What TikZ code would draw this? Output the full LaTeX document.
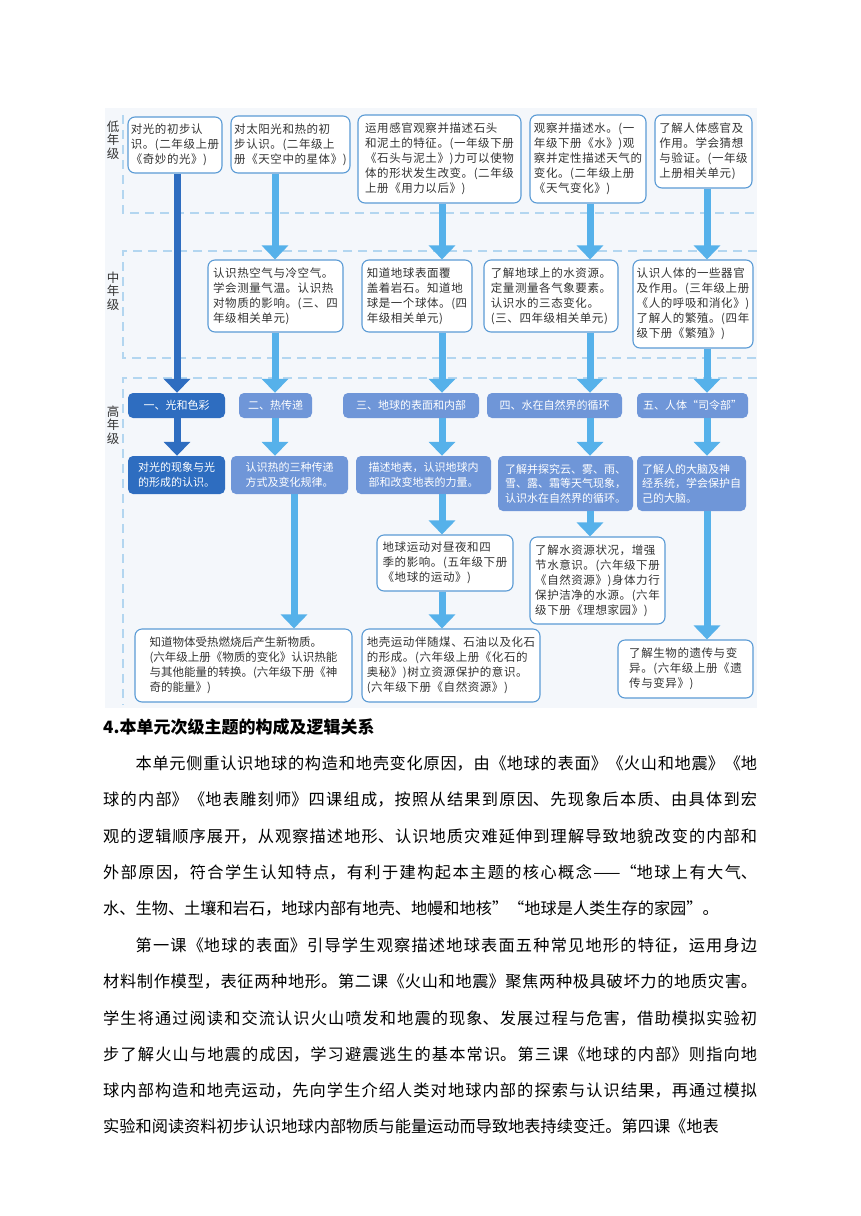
\documentclass[tikz,border=0pt]{standalone}
\usepackage{fontspec}
\setmainfont{Noto Sans CJK SC}
\newfontfamily\boxfont{Noto Sans CJK SC}[LetterSpace=5]
\usetikzlibrary{arrows.meta}
\XeTeXlinebreaklocale "zh"
\XeTeXlinebreakskip=0pt plus 2pt
\definecolor{bordblue}{HTML}{5B9BD5}
\definecolor{darkblue}{HTML}{2E6DC0}
\definecolor{midblue}{HTML}{6F96D8}
\definecolor{skyblue}{HTML}{56B1EA}
\definecolor{dashblue}{HTML}{B3D6F0}
\definecolor{bggray}{HTML}{F4F7FB}
\definecolor{txtgray}{HTML}{333333}
\tikzset{
 wbox/.style={draw=bordblue, line width=1.1pt, rounded corners=7pt, fill=white, inner sep=0pt, align=left, text=txtgray, font=\boxfont\fontsize{11.5}{15}\selectfont},
 fbox/.style={rounded corners=5pt, inner sep=0pt, align=left, text=white, font=\fontsize{11}{14.5}\selectfont},
 dfill/.style={fbox, fill=darkblue},
 mfill/.style={fbox, fill=midblue},
 arrL/.style={draw=skyblue, line width=7pt, -{Triangle[width=26pt,length=14pt]}},
 arrD/.style={draw=darkblue, line width=7pt, -{Triangle[width=26pt,length=14pt]}},
 bandline/.style={draw=dashblue, line width=1.4pt, dash pattern=on 9pt off 6pt},
 lvl/.style={align=center, text=txtgray, inner sep=0pt, font=\fontsize{12.5}{13.5}\selectfont},
 para/.style={anchor=base west, inner sep=0pt},
}
\begin{document}
\begin{tikzpicture}[x=1pt,y=-1pt]
\useasboundingbox (0,0) rectangle (860,1216);
\fill[white] (0,0) rectangle (860,1216);
\fill[bggray] (105,108) rectangle (757,708);
% bands
\draw[bandline] (123,115) -- (123,213) -- (757,213);
\draw[bandline] (757,251) -- (123,251) -- (123,358) -- (757,358);
\draw[bandline] (757,378) -- (123,378) -- (123,705);
% level labels
\node[lvl] (L1) at (113,140) {低\\年\\级};
\node[lvl] (L2) at (113,291) {中\\年\\级};
\node[lvl] (L3) at (113,425) {高\\年\\级};
% columns
\coordinate (c1) at (177,0);
\coordinate (c2) at (275,0);
\coordinate (c2b) at (294,0);
\coordinate (c3) at (442,0);
\coordinate (c4) at (590,0);
\coordinate (c5) at (707,0);
% low grade
\node[wbox, minimum width=94pt, minimum height=56pt] (A1) at (175,145) {对光的初步认\\识。(二年级上册\\《奇妙的光》)};
\node[wbox, minimum width=119pt, minimum height=57pt] (A2) at (290.5,144.5) {对太阳光和热的初\\步认识。(二年级上\\册《天空中的星体》)};
\node[wbox, minimum width=163pt, minimum height=88pt] (A3) at (439.5,159) {运用感官观察并描述石头\\和泥土的特征。(一年级下册\\《石头与泥土》)力可以使物\\体的形状发生改变。(二年级\\上册《用力以后》)};
\node[wbox, minimum width=116pt, minimum height=88pt] (A4) at (588,159) {观察并描述水。(一\\年级下册《水》)观\\察并定性描述天气的\\变化。(二年级上册\\《天气变化》)};
\node[wbox, minimum width=97pt, minimum height=73pt] (A5) at (703.5,151.5) {了解人体感官及\\作用。学会猜想\\与验证。(一年级\\上册相关单元)};
% mid grade
\node[wbox, minimum width=135pt, minimum height=72pt] (B1) at (275.5,296) {认识热空气与冷空气。\\学会测量气温。认识热\\对物质的影响。(三、四\\年级相关单元)};
\node[wbox, minimum width=110pt, minimum height=72pt] (B2) at (417,296) {知道地球表面覆\\盖着岩石。知道地\\球是一个球体。(四\\年级相关单元)};
\node[wbox, minimum width=134pt, minimum height=72pt] (B3) at (551,296) {了解地球上的水资源。\\定量测量各气象要素。\\认识水的三态变化。\\(三、四年级相关单元)};
\node[wbox, minimum width=120pt, minimum height=88pt] (B4) at (693,304) {认识人体的一些器官\\及作用。(三年级上册\\《人的呼吸和消化》)\\了解人的繁殖。(四年\\级下册《繁殖》)};
% high grade titles
\node[dfill, minimum width=97pt, minimum height=25pt] (C1) at (176.5,405.5) {一、光和色彩};
\node[mfill, minimum width=73pt, minimum height=25pt] (C2) at (275.5,405.5) {二、热传递};
\node[mfill, minimum width=136pt, minimum height=25pt] (C3) at (411,405.5) {三、地球的表面和内部};
\node[mfill, minimum width=135pt, minimum height=25pt] (C4) at (554.5,405.5) {四、水在自然界的循环};
\node[mfill, minimum width=111pt, minimum height=25pt] (C5) at (692.5,405.5) {五、人体“司令部”};
% high grade descriptions
\node[dfill, minimum width=97pt, minimum height=38pt] (D1) at (176.5,475) {对光的现象与光\\的形成的认识。};
\node[mfill, minimum width=117pt, minimum height=38pt] (D2) at (289.5,475) {认识热的三种传递\\方式及变化规律。};
\node[mfill, minimum width=135pt, minimum height=38pt] (D3) at (423.5,475) {描述地表，认识地球内\\部和改变地表的力量。};
\node[mfill, minimum width=135pt, minimum height=55pt] (D4) at (565.5,483.5) {了解并探究云、雾、雨、\\雪、露、霜等天气现象，\\认识水在自然界的循环。};
\node[mfill, minimum width=109pt, minimum height=55pt] (D5) at (691.5,483.5) {了解人的大脑及神\\经系统，学会保护自\\己的大脑。};
% further
\node[wbox, minimum width=136pt, minimum height=56pt] (F1) at (445,563) {地球运动对昼夜和四\\季的影响。(五年级下册\\《地球的运动》)};
\node[wbox, minimum width=135pt, minimum height=87pt] (F2) at (597.5,580.5) {了解水资源状况，增强\\节水意识。(六年级下册\\《自然资源》)身体力行\\保护洁净的水源。(六年\\级下册《理想家园》)};
\node[wbox, minimum width=217pt, minimum height=73pt, font=\fontsize{11.5}{15}\selectfont] (E1) at (243.5,665.5) {知道物体受热燃烧后产生新物质。\\(六年级上册《物质的变化》认识热能\\与其他能量的转换。(六年级下册《神\\奇的能量》)};
\node[wbox, minimum width=178pt, minimum height=73pt] (E2) at (451,665.5) {地壳运动伴随煤、石油以及化石\\的形成。(六年级上册《化石的\\奥秘》)树立资源保护的意识。\\(六年级下册《自然资源》)};
\node[wbox, minimum width=135pt, minimum height=58pt] (G) at (685.5,669) {了解生物的遗传与变\\异。(六年级上册《遗\\传与变异》)};
% arrows
\draw[arrD] (A1.south -| c1) -- (C1.north -| c1);
\draw[arrD] (C1.south -| c1) -- (D1.north -| c1);
\draw[arrL] (A2.south -| c2) -- (B1.north -| c2);
\draw[arrL] (B1.south -| c2) -- (C2.north -| c2);
\draw[arrL] (C2.south -| c2) -- (D2.north -| c2);
\draw[arrL] (D2.south -| c2b) -- (E1.north -| c2b);
\draw[arrL] (A3.south -| c3) -- (B2.north -| c3);
\draw[arrL] (B2.south -| c3) -- (C3.north -| c3);
\draw[arrL] (C3.south -| c3) -- (D3.north -| c3);
\draw[arrL] (D3.south -| c3) -- (F1.north -| c3);
\draw[arrL] (F1.south -| c3) -- (E2.north -| c3);
\draw[arrL] (A4.south -| c4) -- (B3.north -| c4);
\draw[arrL] (B3.south -| c4) -- (C4.north -| c4);
\draw[arrL] (C4.south -| c4) -- (D4.north -| c4);
\draw[arrL] (D4.south -| c4) -- (F2.north -| c4);
\draw[arrL] (A5.south -| c5) -- (B4.north -| c5);
\draw[arrL] (B4.south -| c5) -- (C5.north -| c5);
\draw[arrL] (C5.south -| c5) -- (D5.north -| c5);
\draw[arrL] (D5.south -| c5) -- (G.north -| c5);
% text below
\node[para, font=\bfseries\fontsize{17}{20}\selectfont] (H) at (103,733.5) {4.本单元次级主题的构成及逻辑关系};
\node[para] (P1) at (103,769.4) {\parbox[t]{654pt}{\fontsize{16.2}{36.3}\selectfont\hspace*{2em}本单元侧重认识地球的构造和地壳变化原因，由《地球的表面》《火山和地震》《地\linebreak 球的内部》《地表雕刻师》四课组成，按照从结果到原因、先现象后本质、由具体到宏\linebreak 观的逻辑顺序展开，从观察描述地形、认识地质灾难延伸到理解导致地貌改变的内部和\linebreak 外部原因，符合学生认知特点，有利于建构起本主题的核心概念——“地球上有大气、\linebreak 水、生物、土壤和岩石，地球内部有地壳、地幔和地核”“地球是人类生存的家园”。}};
\node[para] (P2) at (103,951.4) {\parbox[t]{654pt}{\fontsize{16.2}{36.3}\selectfont\hspace*{2em}第一课《地球的表面》引导学生观察描述地球表面五种常见地形的特征，运用身边\linebreak 材料制作模型，表征两种地形。第二课《火山和地震》聚焦两种极具破坏力的地质灾害。\linebreak 学生将通过阅读和交流认识火山喷发和地震的现象、发展过程与危害，借助模拟实验初\linebreak 步了解火山与地震的成因，学习避震逃生的基本常识。第三课《地球的内部》则指向地\linebreak 球内部构造和地壳运动，先向学生介绍人类对地球内部的探索与认识结果，再通过模拟\linebreak 实验和阅读资料初步认识地球内部物质与能量运动而导致地表持续变迁。第四课《地表}};
\end{tikzpicture}
\end{document}
